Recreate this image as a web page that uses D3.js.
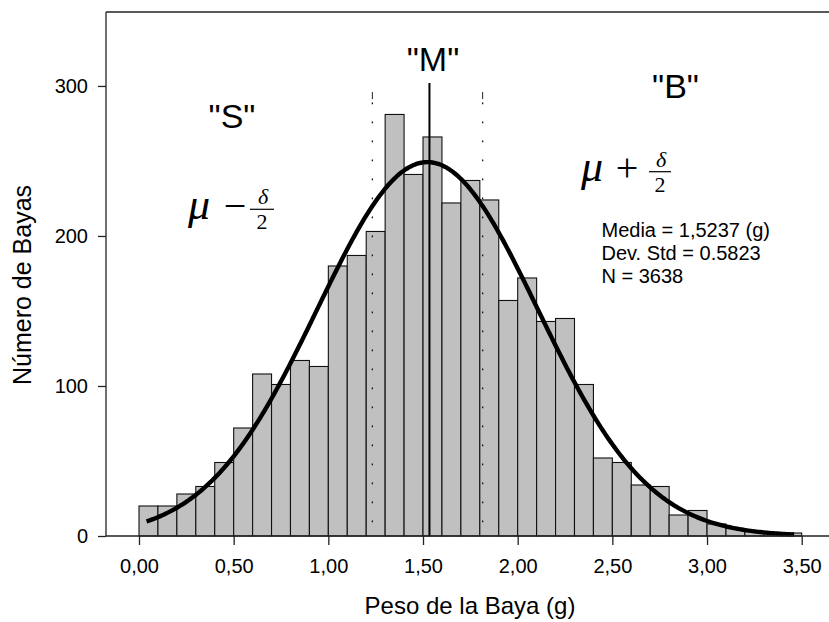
<!DOCTYPE html>
<html><head><meta charset="utf-8">
<script src="https://cdn.jsdelivr.net/npm/d3@7/dist/d3.min.js"></script>
<style>
html,body{margin:0;padding:0;background:#fff;}
svg{display:block;font-family:Arial,"Liberation Sans",sans-serif;}
</style></head>
<body>
<svg id="chart" width="829" height="622"></svg>
<script>
// ---- data ----
const binStarts = [0.0,0.1,0.2,0.3,0.4,0.5,0.6,0.7,0.8,0.9,1.0,1.1,1.2,1.3,1.4,1.5,1.6,1.7,1.8,1.9,2.0,2.1,2.2,2.3,2.4,2.5,2.6,2.7,2.8,2.9,3.0,3.1,3.2,3.3,3.4];
const counts = [20,20,28,33,49,72,108,101,117,113,180,187,203,281,241,266,222,237,224,157,172,143,145,101,52,49,34,33,14,17,8,5,3,2,2];
const binWidth = 0.1;
const xTicks = [0,0.5,1,1.5,2,2.5,3,3.5];
const xTickLabels = ["0,00","0,50","1,00","1,50","2,00","2,50","3,00","3,50"];
const yTicks = [0,100,200,300];
const meanVal = 1.5237, sdVal = 0.5823, nVal = 3638;
const curveRange = [0.04, 3.46];
const meanLineX = 1.534;
const dottedX = [1.2326, 1.8149];
const statsLines = ["Media = 1,5237 (g)","Dev. Std = 0.5823","N = 3638"];
const xTitle = "Peso de la Baya (g)";
const yTitle = "Número de Bayas";

// ---- layout ----
const svg = d3.select("#chart");
const x = d3.scaleLinear().domain([0,3.5]).range([139,801.7]);
const y = d3.scaleLinear().domain([0,349.3]).range([536,12]);
const pL = 106, pR = 829, pT = 12, pB = 536;

// bars
svg.append("g").selectAll("rect").data(binStarts).join("rect")
  .attr("x", d => x(d))
  .attr("y", (d,i) => y(counts[i]))
  .attr("width", d => x(d+binWidth)-x(d))
  .attr("height", (d,i) => y(0)-y(counts[i]))
  .attr("fill","#c0c0c0").attr("stroke","#111").attr("stroke-width",1.1);

// dotted reference lines
dottedX.forEach(v => {
  svg.append("line").attr("x1",x(v)).attr("x2",x(v)).attr("y1",92).attr("y2",99)
    .attr("stroke","#222").attr("stroke-width",1);
  svg.append("line").attr("x1",x(v)).attr("x2",x(v)).attr("y1",102.5).attr("y2",pB)
    .attr("stroke","#111").attr("stroke-width",1.3).attr("stroke-dasharray","1.8,17.2");
});

// mean line
svg.append("line").attr("x1",x(meanLineX)).attr("x2",x(meanLineX)).attr("y1",83).attr("y2",pB)
  .attr("stroke","#000").attr("stroke-width",2);

// normal curve (fitted from the stated mean, std. dev. and N)
const pdfScale = nVal*binWidth/(sdVal*Math.sqrt(2*Math.PI));
const curvePts = d3.range(curveRange[0], curveRange[1]+0.0001, 0.01)
  .map(v => [v, pdfScale*Math.exp(-0.5*Math.pow((v-meanVal)/sdVal,2))]);
svg.append("path").datum(curvePts)
  .attr("d", d3.line().x(d=>x(d[0])).y(d=>y(d[1])).curve(d3.curveBasis))
  .attr("fill","none").attr("stroke","#000").attr("stroke-width",4.4);

// frame
svg.append("line").attr("x1",pL).attr("x2",pR).attr("y1",pT).attr("y2",pT).attr("stroke","#222").attr("stroke-width",1.3);
svg.append("line").attr("x1",pL).attr("x2",pL).attr("y1",pT).attr("y2",pB).attr("stroke","#222").attr("stroke-width",1.3);
svg.append("line").attr("x1",pL).attr("x2",pR).attr("y1",pB).attr("y2",pB).attr("stroke","#222").attr("stroke-width",1.3);

// axes
const xAxis = d3.axisBottom(x).tickValues(xTicks).tickSize(9).tickPadding(14)
  .tickFormat((d,i) => xTickLabels[i]);
const gx = svg.append("g").attr("transform",`translate(0,${pB})`).call(xAxis);
gx.select(".domain").remove();
gx.selectAll("line").attr("stroke","#222").attr("stroke-width",1.3);
gx.selectAll("text").attr("font-size",20).attr("fill","#000").attr("font-family","Arial,'Liberation Sans',sans-serif");

const yAxis = d3.axisLeft(y).tickValues(yTicks).tickSize(8).tickPadding(10);
const gy = svg.append("g").attr("transform",`translate(${pL},0)`).call(yAxis);
gy.select(".domain").remove();
gy.selectAll("line").attr("stroke","#222").attr("stroke-width",1.3);
gy.selectAll("text").attr("font-size",20).attr("fill","#000").attr("font-family","Arial,'Liberation Sans',sans-serif");

// titles
svg.append("text").attr("x",470).attr("y",614).attr("text-anchor","middle")
  .attr("font-size",24).text(xTitle);
svg.append("text").attr("transform","translate(31,285) rotate(-90)").attr("text-anchor","middle")
  .attr("font-size",25).text(yTitle);

// group labels
const big = 34;
svg.append("text").attr("x",433).attr("y",71).attr("text-anchor","middle").attr("font-size",big).text('"M"');
svg.append("text").attr("x",232).attr("y",128).attr("text-anchor","middle").attr("font-size",big).text('"S"');
svg.append("text").attr("x",675.5).attr("y",98).attr("text-anchor","middle").attr("font-size",big).text('"B"');

// math labels
function mathLabel(mx, base, op, opX, barY, barX1, barX2) {
  const g = svg.append("g").attr("font-family","'Liberation Serif','DejaVu Serif',serif");
  g.append("text").attr("x",mx).attr("y",base).attr("font-size",44).attr("font-style","italic").text("\u03BC");
  g.append("text").attr("x",opX).attr("y",base).attr("text-anchor","middle").attr("font-size",40).text(op);
  g.append("line").attr("x1",barX1).attr("x2",barX2).attr("y1",barY).attr("y2",barY).attr("stroke","#000").attr("stroke-width",1.2);
  g.append("text").attr("x",(barX1+barX2)/2+1).attr("y",barY-5).attr("text-anchor","middle").attr("font-size",22).attr("font-style","italic").text("\u03B4");
  g.append("text").attr("x",(barX1+barX2)/2).attr("y",barY+20).attr("text-anchor","middle").attr("font-size",22).text("2");
}
mathLabel(188, 219, "\u2212", 235, 209.3, 250, 274);
mathLabel(581, 181, "+", 627, 171.7, 649, 671);

// stats
const st = svg.append("text").attr("font-size",20).attr("x",601.5);
statsLines.forEach((t,i) => st.append("tspan").attr("x",601.5).attr("y",237+i*23).text(t));
</script>
</body></html>
